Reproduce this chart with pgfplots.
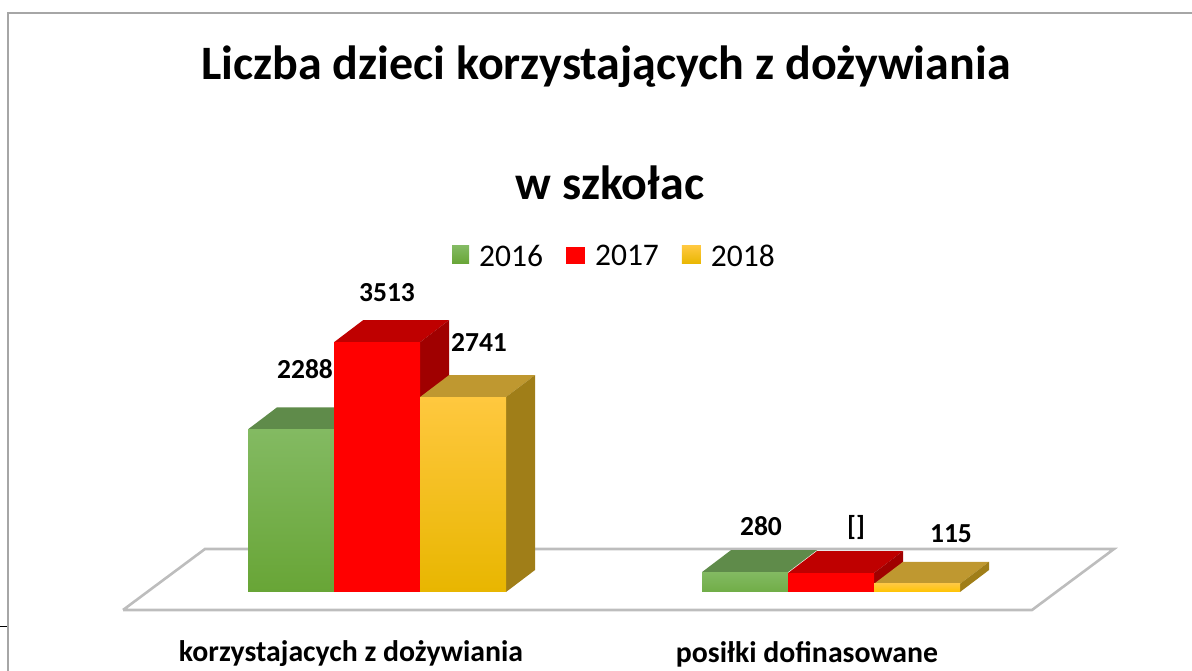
\documentclass[border=0pt]{standalone}
\usepackage{fontspec}
\setmainfont{Carlito}
\usepackage{pgfplots}
\pgfplotsset{compat=1.18}
\definecolor{gT}{HTML}{83BA62}\definecolor{gM}{HTML}{70AD47}\definecolor{gB}{HTML}{68A536}
\definecolor{yT}{HTML}{FFC83F}\definecolor{yM}{HTML}{FFC400}\definecolor{yB}{HTML}{E8B600}
\definecolor{gTop}{HTML}{5F8B4A}\definecolor{rTop}{HTML}{BF0000}\definecolor{yTop}{HTML}{BF9830}
\definecolor{rSide}{HTML}{A00000}\definecolor{ySide}{HTML}{A07E18}
\definecolor{frameC}{HTML}{A6A6A6}\definecolor{floorC}{HTML}{BDBDBD}
\begin{document}
\begin{tikzpicture}
\begin{axis}[
  scale only axis, width=596pt, height=335.5pt,
  xmin=0, xmax=1192, ymin=-1111, ymax=8326.3,
  hide axis, clip=true,
  legend style={at={(axis cs:615.5,4712)}, anchor=center, draw=none, fill=none,
    font=\fontsize{15.75}{17}\selectfont, legend columns=3, inner sep=0pt,
    /tikz/every even column/.append style={column sep=9.5pt},
    /tikz/every odd column/.append style={column sep=3pt}},
  legend cell align=left,
  every axis plot/.append style={line join=miter},
  bar width=86,
]
\path (rel axis cs:0,0) rectangle (rel axis cs:1,1);
% frame and floor
\addplot[forget plot, frameC, line width=1.2pt] coordinates {(8,-1111)(8,8143)(1192,8143)};
\addplot[forget plot, black, line width=.5pt] coordinates {(0,-488)(7,-488)};
\addplot[forget plot, floorC, line width=1.3pt] coordinates {(123,-253)(1032,-253)(1114,605)(205,605)(123,-253)} ;
% 2016
\addplot[forget plot, fill=gTop, draw=none] coordinates {(248,2288)(334,2288)(363,2597)(277,2597)(248,2288)};
\addplot[forget plot, fill=gTop, draw=none] coordinates {(702,280)(788,280)(817,589)(731,589)(702,280)};
\addplot[ybar, bar shift=0pt, area legend, draw=none, top color=gT, middle color=gM, bottom color=gB,
  legend image code/.code={\path[top color=gT, middle color=gM, bottom color=gB] (0pt,-3.5pt) rectangle (8.5pt,5.5pt);}]
  coordinates {(291,2288)};
\addlegendentry{2016}
\addplot[forget plot, ybar, bar shift=0pt, draw=none, top color=gT, bottom color=gM]
  coordinates {(745,280)};
% 2017
\addplot[forget plot, fill=rTop, draw=none] coordinates {(334,3513)(420,3513)(449,3822)(363,3822)(334,3513)};
\addplot[forget plot, fill=rSide, draw=none] coordinates {(420,0)(449,309)(449,3822)(420,3513)(420,0)};
\addplot[forget plot, fill=rTop, draw=none] coordinates {(788,267)(874,267)(903,576)(817,576)(788,267)};
\addplot[forget plot, fill=rSide, draw=none] coordinates {(874,0)(903,309)(903,576)(874,267)(874,0)};
\addplot[ybar, bar shift=0pt, area legend, draw=none, fill=red,
  legend image code/.code={\path[fill=red] (0pt,-3.5pt) rectangle (9.5pt,5pt);}]
  coordinates {(377,3513)(831,267)};
\addlegendentry{2017}
% 2018
\addplot[forget plot, fill=yTop, draw=none] coordinates {(420,2741)(506,2741)(535,3050)(449,3050)(420,2741)};
\addplot[forget plot, fill=ySide, draw=none] coordinates {(506,0)(535,309)(535,3050)(506,2741)(506,0)};
\addplot[forget plot, fill=yTop, draw=none] coordinates {(874,115)(960,115)(989,424)(903,424)(874,115)};
\addplot[forget plot, fill=ySide, draw=none] coordinates {(960,0)(989,309)(989,424)(960,115)(960,0)};
\addplot[ybar, bar shift=0pt, area legend, draw=none, top color=yT, middle color=yM, bottom color=yB,
  legend image code/.code={\path[top color=yT, middle color=yM, bottom color=yB] (0pt,-3.5pt) rectangle (9.5pt,5.5pt);}]
  coordinates {(463,2741)};
\addlegendentry{2018}
\addplot[forget plot, ybar, bar shift=0pt, draw=none, top color=yT, bottom color=yM]
  coordinates {(917,115)};
% texts
\node[font=\fontsize{24}{26}\selectfont\bfseries] at (axis cs:606,7384) {Liczba dzieci korzystających z dożywiania};
\node[font=\fontsize{24}{26}\selectfont\bfseries] at (axis cs:610,5752) {w szkołac};
\node[font=\fontsize{13.75}{15}\selectfont\bfseries] at (axis cs:305,3136) {2288};
\node[font=\fontsize{13.75}{15}\selectfont\bfseries] at (axis cs:387,4205) {3513};
\node[font=\fontsize{13.75}{15}\selectfont\bfseries] at (axis cs:479,3516) {2741};
\node[font=\fontsize{13.75}{15}\selectfont\bfseries] at (axis cs:761,928) {280};
\node[font=\fontsize{13.75}{15}\selectfont\bfseries] at (axis cs:856,914) {[]};
\node[font=\fontsize{13.75}{15}\selectfont\bfseries] at (axis cs:951,816) {115};
\node[font=\fontsize{14.9}{16}\selectfont\bfseries] at (axis cs:351,-872) {korzystajacych z dożywiania};
\node[font=\fontsize{14.9}{16}\selectfont\bfseries] at (axis cs:807,-872) {posiłki dofinasowane};
\end{axis}
\end{tikzpicture}
\end{document}
